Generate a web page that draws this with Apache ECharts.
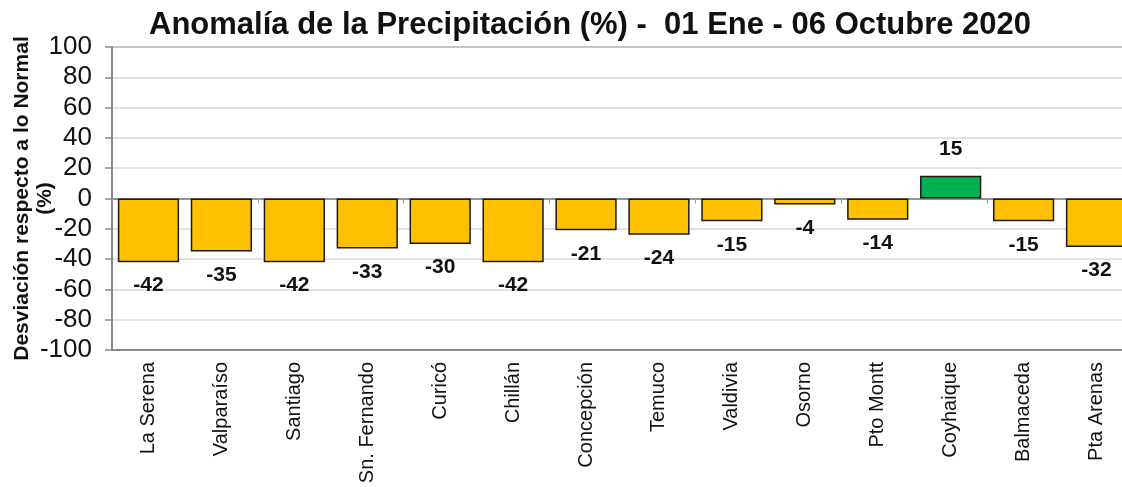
<!DOCTYPE html>
<html>
<head>
<meta charset="utf-8">
<script src="https://cdn.jsdelivr.net/npm/echarts@6/dist/echarts.min.js"></script>
<style>
  html, body { margin: 0; padding: 0; background: #fff; }
  #chart { width: 1122px; height: 487px; }
</style>
</head>
<body>
<div id="chart"></div>
<script>
// Estaciones y anomalía de precipitación (%)
const estaciones = ['La Serena', 'Valparaíso', 'Santiago', 'Sn. Fernando', 'Curicó', 'Chillán',
  'Concepción', 'Temuco', 'Valdivia', 'Osorno', 'Pto Montt', 'Coyhaique', 'Balmaceda', 'Pta Arenas'];
const anomalia = [-42, -35, -42, -33, -30, -42, -21, -24, -15, -4, -14, 15, -15, -32];
const ejeY = { min: -100, max: 100, interval: 20 };

const font = '"Liberation Sans", Arial, sans-serif';

const chart = echarts.init(document.getElementById('chart'), null, { renderer: 'canvas' });
chart.setOption({
  animation: false,
  title: {
    text: 'Anomalía de la Precipitación (%) -  01 Ene - 06 Octubre 2020',
    left: 144,
    top: 5,
    textStyle: { fontFamily: font, fontSize: 31, fontWeight: 'bold', color: '#111' }
  },
  grid: {
    left: 112, right: -11, top: 47, bottom: 137,
    outerBoundsMode: 'none',
    containLabel: false,
    show: true, borderColor: '#8a8a8a', borderWidth: 2, backgroundColor: 'transparent'
  },
  xAxis: [
    {
      type: 'category',
      data: estaciones,
      position: 'bottom',
      axisLine: { onZero: false, lineStyle: { color: '#8a8a8a', width: 2 } },
      axisTick: { show: false },
      axisLabel: {
        rotate: 90, margin: 12, interval: 0,
        fontFamily: font, fontSize: 20, color: '#111'
      }
    },
    {
      type: 'category',
      data: estaciones,
      position: 'bottom',
      axisLine: { onZero: true, lineStyle: { color: '#7a7a7a', width: 1.5 } },
      axisTick: { show: true, length: 5, lineStyle: { color: '#9a9a9a' } },
      axisLabel: { show: false }
    }
  ],
  yAxis: {
    type: 'value',
    min: ejeY.min, max: ejeY.max, interval: ejeY.interval,
    name: 'Desviación respecto a lo Normal\n(%)',
    nameLocation: 'middle',
    nameGap: 55,
    nameMoveOverlap: false,
    nameTextStyle: { fontFamily: font, fontSize: 21, fontWeight: 'bold', color: '#111', lineHeight: 23 },
    axisLine: { show: true, lineStyle: { color: '#8a8a8a', width: 2 } },
    axisTick: { show: true, length: 7, lineStyle: { color: '#8a8a8a', width: 1.5 } },
    axisLabel: { fontFamily: font, fontSize: 26, color: '#111', margin: 20 },
    splitLine: { lineStyle: { color: '#d9d9d9', width: 1.5 } }
  },
  series: [{
    type: 'bar',
    xAxisIndex: 0,
    data: anomalia.map(v => ({
      value: v,
      itemStyle: { color: v >= 0 ? '#00B050' : '#FFC000' },
      label: v >= 0 ? { position: 'top', distance: 16 } : { position: 'bottom', distance: 13 }
    })),
    barCategoryGap: '16%',
    itemStyle: { borderColor: '#1a1a1a', borderWidth: 1.5 },
    label: {
      show: true,
      fontFamily: font, fontSize: 21, fontWeight: 'bold', color: '#111'
    }
  }]
});
</script>
</body>
</html>
